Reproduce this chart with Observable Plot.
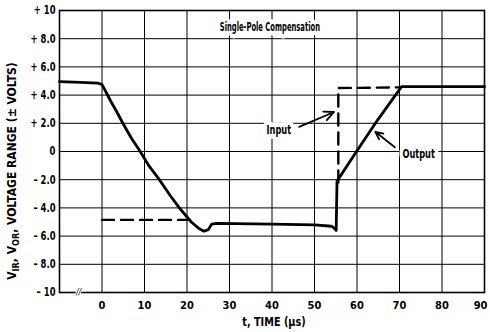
<!DOCTYPE html>
<html><head><meta charset="utf-8">
<script src="https://cdn.jsdelivr.net/npm/d3@7"></script>
<script src="https://cdn.jsdelivr.net/npm/@observablehq/plot@0.6"></script>
<style>
html,body{margin:0;padding:0;background:#fff;}
#chart{width:490px;height:332px;}
</style></head><body><div id="chart"></div>
<script>
// ---- data ----
const yTicks = [-10, -8, -6, -4, -2, 0, 2, 4, 6, 8, 10];
const yTickLabels = ["– 10", "– 8.0", "– 6.0", "– 4.0", "– 2.0", "0", "+ 2.0", "+ 4.0", "+ 6.0", "+ 8.0", "+ 10"];
const xTicks = [0, 10, 20, 30, 40, 50, 60, 70, 80, 90];
const xGrid = [0, 10, 20, 30, 40, 50, 60, 70, 80];
const yGrid = [-8, -6, -4, -2, 0, 2, 4, 6, 8];

const outputT = [-10, -5, -1, 0, 0.8, 2, 3.5, 5, 7, 9, 11, 13.5, 16, 18.2, 21, 23, 24, 25, 25.8, 27, 40, 50, 54, 54.7, 55.1, 55.3, 60, 65, 70.5, 80, 90];
const outputV = [4.95, 4.9, 4.85, 4.75, 4.3, 3.6, 2.8, 1.95, 0.9, 0, -1.0, -2.0, -3.1, -4.0, -5.0, -5.5, -5.65, -5.55, -5.15, -5.1, -5.15, -5.2, -5.3, -5.45, -5.6, -2.1, 0.05, 2.3, 4.6, 4.6, 4.6];

const inputSeg = [1, 1, 2, 2, 2];
const inputT = [0, 21, 55.6, 55.6, 70];
const inputV = [-4.85, -4.85, -2.2, 4.5, 4.55];

const titleText = "Single-Pole Compensation";
const notes = ["Input", "Output"];
const noteT = [41.6, 74.5];
const noteV = [1.5, -0.2];
const arrowT1 = [46.4, 68.9], arrowV1 = [1.75, 0.3];
const arrowT2 = [54.6, 64.3], arrowV2 = [2.8, 1.4];
const xLabel = "t, TIME (μs)";

// ---- build ----
const FONT = '"DejaVu Sans Condensed", "Liberation Sans Narrow", sans-serif';
const output = outputT.map((t, i) => ({t, v: outputV[i]}));
const input = inputT.map((t, i) => ({t, v: inputV[i], s: inputSeg[i]}));
const noteData = notes.map((n, i) => ({n, t: noteT[i], v: noteV[i]}));
const arrows = arrowT1.map((t, i) => ({t1: t, v1: arrowV1[i], t2: arrowT2[i], v2: arrowV2[i]}));
const labelOf = new Map(yTicks.map((d, i) => [d, yTickLabels[i]]));
const lastX = xTicks[xTicks.length - 1];

const chart = Plot.plot({
  width: 490, height: 332,
  marginLeft: 59, marginRight: 6, marginTop: 10, marginBottom: 40,
  style: {fontFamily: FONT, fontSize: "12px", color: "#000", background: "#fff"},
  x: {domain: [-10, 90]},
  y: {domain: [-10, 10]},
  marks: [
    Plot.ruleX(xGrid, {stroke: "#000", strokeWidth: 1}),
    Plot.ruleY(yGrid, {stroke: "#000", strokeWidth: 1}),
    Plot.frame({stroke: "#000", strokeWidth: 1.6}),
    Plot.axisY(yTicks, {tickSize: 0, tickPadding: 4, tickFormat: d => labelOf.get(d), fontWeight: "bold", label: null}),
    Plot.axisX(xTicks.slice(0, -1), {tickSize: 0, tickPadding: 9, fontSize: 11, fontWeight: "bold", label: null}),
    Plot.axisX([lastX], {tickSize: 0, tickPadding: 9, fontSize: 11, fontWeight: "bold", label: null, textAnchor: "end", dx: 3}),
    Plot.text([{t: -5.5, v: -10}], {x: "t", y: "v", text: () => "//", fontSize: 9, fontStyle: "italic", fill: "#000", stroke: "white", strokeWidth: 2, paintOrder: "stroke"}),
    Plot.line(input, {x: "t", y: "v", z: "s", stroke: "#000", strokeWidth: 2.4, strokeDasharray: "12,7"}),
    Plot.line(output, {x: "t", y: "v", stroke: "#000", strokeWidth: 2.8, strokeLinejoin: "round", curve: "linear"}),
    Plot.text([{t: 39.5, v: 8.85}], {x: "t", y: "v", text: () => titleText, fontSize: 13, fontWeight: "bold", fill: "#000", stroke: "white", strokeWidth: 9, paintOrder: "stroke", className: "fitTitle"}),
    Plot.text(noteData, {x: "t", y: "v", text: "n", fontSize: 12, fontWeight: "bold", fill: "#000", stroke: "white", strokeWidth: 9, paintOrder: "stroke", className: "fitNote"}),
    Plot.arrow(arrows, {x1: "t1", y1: "v1", x2: "t2", y2: "v2", stroke: "#000", strokeWidth: 1.8, headLength: 9, headAngle: 50})
  ]
});

const svg = d3.select(chart);
const yl = svg.append("text")
  .attr("transform", "translate(16,171) rotate(-90)")
  .attr("text-anchor", "middle")
  .attr("font-family", FONT).attr("font-size", 12).attr("font-weight", "bold").attr("fill", "#000");
yl.append("tspan").text("V");
yl.append("tspan").attr("font-size", 9).attr("dy", 3).text("IR");
yl.append("tspan").attr("dy", -3).text(", V");
yl.append("tspan").attr("font-size", 9).attr("dy", 3).text("OR");
yl.append("tspan").attr("dy", -3).text(", VOLTAGE RANGE (± VOLTS)");

svg.append("text")
  .attr("class", "xlab")
  .attr("x", 274).attr("y", 326)
  .attr("text-anchor", "middle")
  .attr("font-family", FONT).attr("font-size", 12).attr("font-weight", "bold").attr("fill", "#000")
  .text(xLabel);

document.getElementById("chart").appendChild(chart);

// narrow the lettering to match the condensed typeface of the original
function squeeze(sel, f) {
  chart.querySelectorAll(sel).forEach(el => {
    const len = el.getComputedTextLength();
    el.setAttribute("textLength", (len * f).toFixed(1));
    el.setAttribute("lengthAdjust", "spacingAndGlyphs");
  });
}
squeeze('[aria-label="y-axis tick label"] text', 0.78);
squeeze('.fitTitle text', 0.58);
squeeze('.fitNote text', 0.76);
squeeze('.xlab', 0.9);
</script></body></html>
